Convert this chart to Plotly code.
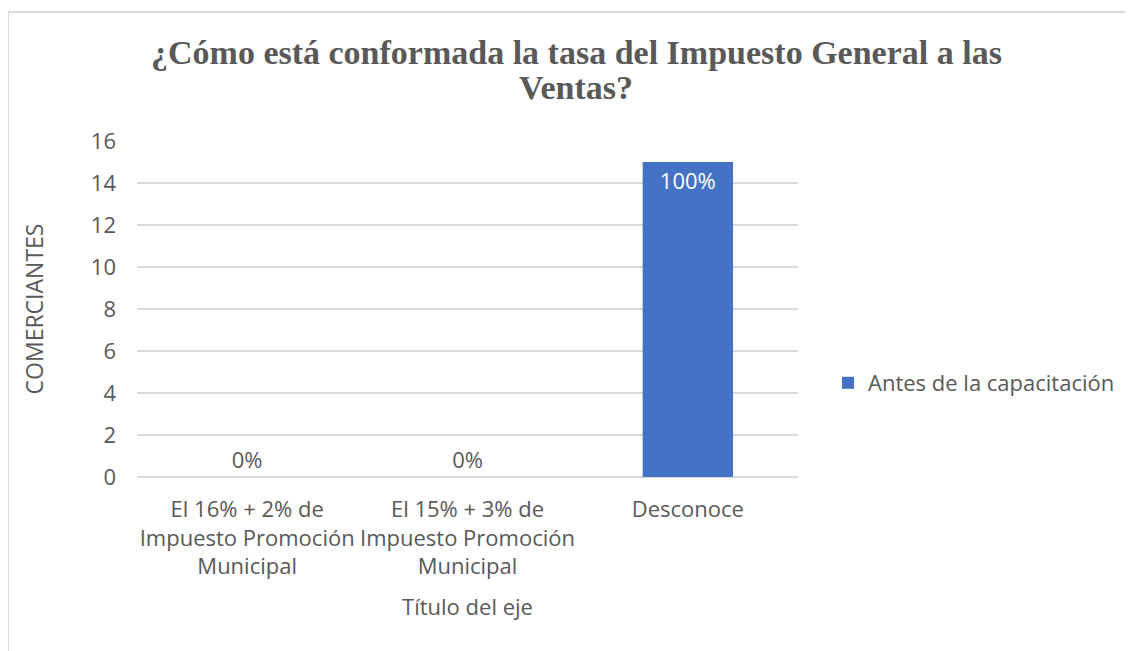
import plotly.graph_objects as go

categories = ["El 16% + 2% de<br>Impuesto Promoción<br>Municipal",
              "El 15% + 3% de<br>Impuesto Promoción<br>Municipal",
              "Desconoce"]
values = [0, 0, 15]
labels = ["0%", "0%", "100%"]
series_name = "Antes de la capacitación"
title_lines = ["¿Cómo está conformada la tasa del Impuesto General a las", "Ventas?"]
x_title = "Título del eje"
y_title = "COMERCIANTES"

OFF = 8  # page body margin
W, H = 1133 - OFF, 651 - OFF
# plot area in page pixels
PL, PR, PT, PB = 137, 798, 141, 477
L, R, T, B = PL - OFF, PR - OFF, PT - OFF, PB - OFF

def px_x(p):
    return (p - OFF - L) / (R - L)

def px_y(p):
    return (B - (p - OFF)) / (B - T)

GRAY = "#595959"
FONT = "Open Sans"
FS = 22

fig = go.Figure()
fig.add_trace(go.Bar(
    x=categories, y=values, name=series_name,
    marker=dict(color="#4472c4", line=dict(width=0)),
    text=labels,
    textposition=["outside", "outside", "inside"],
    insidetextanchor="end",
    textfont=dict(size=FS, family=FONT),
    insidetextfont=dict(color="white", size=FS, family=FONT),
    outsidetextfont=dict(color=GRAY, size=FS, family=FONT),
    cliponaxis=False,
    width=0.41,
))

annotations = [
    dict(text=title_lines[0], xref="paper", yref="paper",
         x=px_x(576), y=px_y(52), xanchor="center", yanchor="middle",
         showarrow=False,
         font=dict(family="Liberation Serif", size=34, color=GRAY, weight="bold")),
    dict(text=title_lines[1], xref="paper", yref="paper",
         x=px_x(576), y=px_y(88), xanchor="center", yanchor="middle",
         showarrow=False,
         font=dict(family="Liberation Serif", size=34, color=GRAY, weight="bold")),
]

fig.update_layout(
    width=W, height=H,
    margin=dict(l=L, r=W - R, t=T, b=H - B, autoexpand=False),
    paper_bgcolor="white", plot_bgcolor="white",
    font=dict(family=FONT, color=GRAY, size=FS),
    showlegend=True,
    legend=dict(x=px_x(828), y=px_y(383), xanchor="left", yanchor="middle",
                font=dict(size=FS, color=GRAY, family=FONT),
                itemwidth=30),
    annotations=annotations,
    shapes=[
        dict(type="line", xref="paper", yref="paper",
             x0=px_x(8), x1=px_x(1140), y0=px_y(12), y1=px_y(12),
             line=dict(color="#d9d9d9", width=2)),
        dict(type="line", xref="paper", yref="paper",
             x0=px_x(8), x1=px_x(8), y0=px_y(12), y1=px_y(660),
             line=dict(color="#d9d9d9", width=2)),
    ],
)
fig.update_yaxes(range=[0, 16], dtick=2, showgrid=True, gridcolor="#d9d9d9",
                 gridwidth=1.5, zeroline=True, zerolinecolor="#d9d9d9",
                 zerolinewidth=1.5, showline=False, ticks="",
                 tickfont=dict(size=FS, color=GRAY, family=FONT), ticklabelstandoff=20,
                 title=dict(text=y_title, font=dict(size=23, color=GRAY, family=FONT),
                            standoff=40))
fig.update_xaxes(showline=False, ticks="", tickfont=dict(size=FS, color=GRAY, family=FONT),
                 ticklabelstandoff=17,
                 title=dict(text=x_title, font=dict(size=FS, color=GRAY, family=FONT),
                            standoff=20))

fig.write_html("out.html")
